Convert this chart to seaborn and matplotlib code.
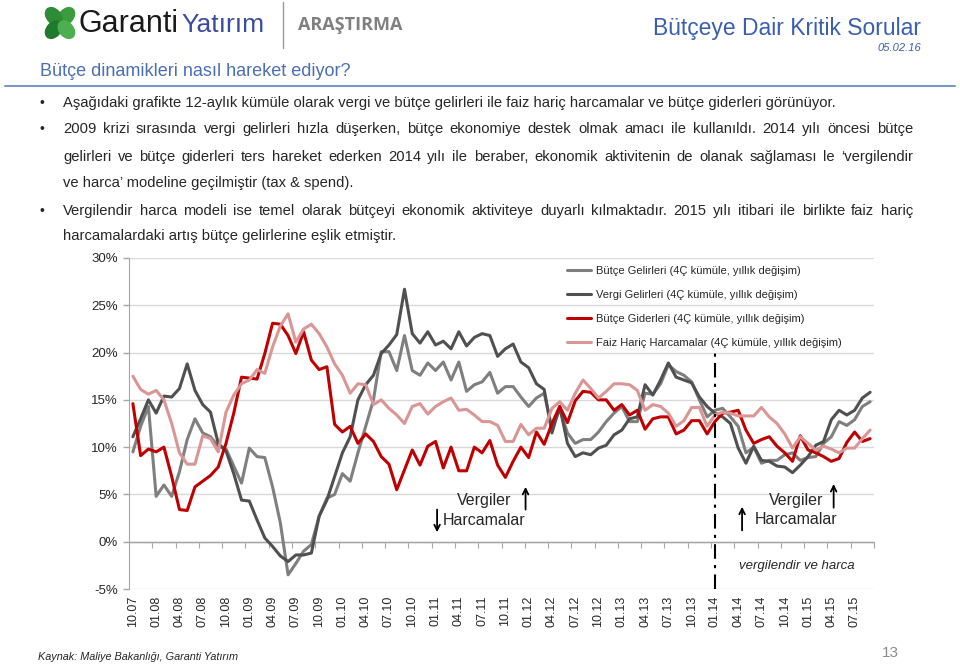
import numpy as np
import pandas as pd
import matplotlib
matplotlib.use('Agg')
import matplotlib.pyplot as plt
from matplotlib.patches import Ellipse
import seaborn as sns

# 12-month cumulative yoy change (%), monthly from 10.07 to 09.15
butce_gelir = [9.5, 12.2, 14.3, 4.8, 6.0, 4.8, 7.4, 10.8, 13.0, 11.5, 11.1, 10.1,
               9.8, 8.0, 6.2, 9.9, 9.0, 8.9, 5.8, 2.0, -3.5, -2.3, -1.0, -0.3,
               2.7, 4.6, 5.0, 7.2, 6.4, 9.4, 12.2, 15.0, 20.1, 20.1, 18.1, 21.8,
               18.1, 17.6, 18.9, 18.1, 19.0, 17.1, 19.0, 15.9, 16.6, 16.9, 17.9, 15.7,
               16.4, 16.4, 15.3, 14.3, 15.2, 15.7, 12.0, 14.0, 11.5, 10.4, 10.8, 10.8,
               11.6, 12.7, 13.6, 14.3, 12.7, 12.7, 15.7, 15.6, 16.7, 18.7, 18.0, 17.6,
               16.9, 15.0, 13.2, 13.9, 14.1, 13.2, 12.2, 9.4, 10.0, 8.3, 8.6, 8.6,
               9.2, 9.4, 8.6, 8.9, 9.0, 10.4, 11.1, 12.7, 12.3, 12.9, 14.3, 14.8]
vergi_gelir = [11.1, 13.0, 15.0, 13.6, 15.4, 15.3, 16.2, 18.8, 16.0, 14.5, 13.7, 10.4,
               9.6, 7.2, 4.4, 4.3, 2.3, 0.4, -0.5, -1.5, -2.1, -1.4, -1.4, -1.2,
               2.7, 4.4, 6.9, 9.4, 11.1, 15.0, 16.6, 17.6, 19.9, 20.8, 21.9, 26.7,
               22.0, 21.0, 22.2, 20.8, 21.2, 20.4, 22.2, 20.7, 21.6, 22.0, 21.8, 19.6,
               20.4, 20.9, 19.0, 18.4, 16.7, 16.1, 11.5, 14.3, 10.4, 9.0, 9.4, 9.2,
               9.9, 10.2, 11.3, 11.8, 13.0, 13.2, 16.6, 15.5, 17.1, 18.9, 17.4, 17.1,
               16.8, 15.3, 14.3, 13.6, 13.2, 12.5, 9.9, 8.3, 10.1, 8.6, 8.5, 8.0,
               7.9, 7.3, 8.1, 9.0, 10.2, 10.6, 12.9, 13.9, 13.4, 13.9, 15.2, 15.8]
butce_gider = [14.6, 9.1, 9.8, 9.5, 10.0, 6.9, 3.4, 3.3, 5.8, 6.4, 7.0, 7.9,
               10.4, 13.6, 17.4, 17.3, 17.2, 19.9, 23.1, 23.0, 21.8, 19.9, 22.2, 19.2,
               18.2, 18.5, 12.4, 11.6, 12.2, 10.4, 11.4, 10.6, 9.0, 8.2, 5.5, 7.6,
               9.7, 8.1, 10.1, 10.6, 7.8, 10.0, 7.5, 7.5, 10.0, 9.4, 10.7, 8.1,
               6.8, 8.5, 10.0, 8.9, 11.6, 10.3, 12.5, 14.3, 12.6, 14.9, 15.9, 15.8,
               15.0, 15.0, 13.9, 14.5, 13.4, 13.9, 11.9, 13.0, 13.2, 13.2, 11.4, 11.8,
               12.8, 12.8, 11.4, 12.7, 13.6, 13.7, 13.9, 11.8, 10.4, 10.8, 11.1, 10.1,
               9.4, 8.5, 11.2, 9.7, 9.4, 9.0, 8.5, 8.8, 10.5, 11.6, 10.6, 10.9]
faiz_haric = [17.5, 16.1, 15.6, 16.0, 15.0, 12.5, 9.4, 8.2, 8.2, 11.2, 10.9, 9.5,
              13.7, 15.5, 16.7, 17.1, 18.2, 17.8, 20.6, 22.8, 24.1, 21.1, 22.5, 23.0,
              22.0, 20.6, 18.8, 17.6, 15.7, 16.7, 16.6, 14.5, 15.0, 14.1, 13.4, 12.5,
              14.3, 14.6, 13.5, 14.3, 14.8, 15.2, 13.9, 14.0, 13.4, 12.7, 12.7, 12.3,
              10.6, 10.6, 12.4, 11.3, 12.0, 12.0, 14.1, 14.8, 13.9, 15.7, 17.1, 16.2,
              15.2, 15.9, 16.7, 16.7, 16.6, 16.0, 13.9, 14.5, 14.3, 13.6, 12.2, 12.8,
              14.2, 14.2, 12.2, 13.4, 13.7, 13.6, 13.3, 13.3, 13.3, 14.2, 13.2, 12.5,
              11.4, 9.9, 11.1, 10.4, 9.7, 10.1, 9.8, 9.4, 9.9, 9.9, 10.9, 11.8]

tick_labels = ['10.07', '01.08', '04.08', '07.08', '10.08', '01.09', '04.09', '07.09',
               '10.09', '01.10', '04.10', '07.10', '10.10', '01.11', '04.11', '07.11',
               '10.11', '01.12', '04.12', '07.12', '10.12', '01.13', '04.13', '07.13',
               '10.13', '01.14', '04.14', '07.14', '10.14', '01.15', '04.15', '07.15']

series_names = ['Bütçe Gelirleri (4Ç kümüle, yıllık değişim)',
                'Vergi Gelirleri (4Ç kümüle, yıllık değişim)',
                'Bütçe Giderleri (4Ç kümüle, yıllık değişim)',
                'Faiz Hariç Harcamalar (4Ç kümüle, yıllık değişim)']
colors = ['#7F7F7F', '#505050', '#C00000', '#D99694']

df = pd.DataFrame({'ay': np.arange(len(butce_gelir)),
                   series_names[0]: butce_gelir,
                   series_names[1]: vergi_gelir,
                   series_names[2]: butce_gider,
                   series_names[3]: faiz_haric})
long_df = df.melt(id_vars='ay', var_name='seri', value_name='deger')

sns.set_style('white')
plt.rcParams['font.family'] = ['Liberation Sans', 'DejaVu Sans']

W, H = 960, 665
fig = plt.figure(figsize=(W / 100, H / 100), dpi=100)
renderer = fig.canvas.get_renderer()


def fx(x):
    return x / W


def fy(y):
    return 1 - y / H


# ---- header ----
logo = fig.add_axes([fx(42), fy(42), fx(36), 38 / H])
logo.set_xlim(-1, 1)
logo.set_ylim(-1, 1)
logo.axis('off')
for ang, col in zip([45, 135, 225, 315], ['#3B9B3F', '#2E8B36', '#1F7A2E', '#4CAF50']):
    r = np.deg2rad(ang)
    logo.add_patch(Ellipse((0.5 * np.cos(r), 0.5 * np.sin(r)), 1.05, 0.75, angle=ang, color=col))

fig.text(fx(78), fy(32), 'Garanti', fontsize=22, color='#1A1A1A', va='baseline', ha='left')
fig.text(fx(181), fy(32), 'Yatırım', fontsize=19, color='#3B4CA0', va='baseline', ha='left')
fig.add_artist(plt.Line2D([fx(283), fx(283)], [fy(2), fy(48)], color='#9A9A9A', lw=1))
fig.text(fx(298), fy(25), 'ARAŞTIRMA', fontsize=13, fontweight='bold', color='#808080',
         va='center', ha='left', family=['Open Sans', 'DejaVu Sans'])
fig.text(fx(921), fy(28), 'Bütçeye Dair Kritik Sorular', fontsize=16.5, color='#3A5FB0',
         va='center', ha='right')
fig.text(fx(921), fy(48), '05.02.16', fontsize=8, style='italic', color='#3A5FB0',
         va='center', ha='right')
fig.text(fx(40), fy(71), 'Bütçe dinamikleri nasıl hareket ediyor?', fontsize=13,
         color='#4A6FB5', va='center', ha='left')
fig.add_artist(plt.Line2D([fx(5), fx(955)], [fy(86), fy(86)], color='#7A96CC', lw=1.5))

# ---- bullet text (justified lines spread between 63 and 913 px) ----
body_fs = 10.6
body = [
    (103, True, False, 'Aşağıdaki grafikte 12-aylık kümüle olarak vergi ve bütçe gelirleri ile faiz hariç harcamalar ve bütçe giderleri görünüyor.'),
    (129, True, True, '2009 krizi sırasında vergi gelirleri hızla düşerken, bütçe ekonomiye destek olmak amacı ile kullanıldı. 2014 yılı öncesi bütçe'),
    (157, False, True, 'gelirleri ve bütçe giderleri ters hareket ederken 2014 yılı ile beraber, ekonomik aktivitenin de olanak sağlaması le ‘vergilendir'),
    (183, False, False, 've harca’ modeline geçilmiştir (tax & spend).'),
    (211, True, True, 'Vergilendir harca modeli ise temel olarak bütçeyi ekonomik aktiviteye duyarlı kılmaktadır. 2015 yılı itibari ile birlikte faiz hariç'),
    (236, False, False, 'harcamalardaki artış bütçe gelirlerine eşlik etmiştir.'),
]
for y, bullet, justify, line in body:
    if bullet:
        fig.text(fx(40), fy(y), '•', fontsize=10, va='center', ha='left')
    if not justify:
        fig.text(fx(63), fy(y), line, fontsize=body_fs, va='center', ha='left')
        continue
    words = line.split(' ')
    widths = []
    for w in words:
        t = fig.text(0, 0, w, fontsize=body_fs)
        widths.append(t.get_window_extent(renderer).width)
        t.remove()
    gap = (913 - 63 - sum(widths)) / (len(words) - 1)
    x = 63
    for w, wd in zip(words, widths):
        fig.text(fx(x), fy(y), w, fontsize=body_fs, va='center', ha='left')
        x += wd + gap

# ---- chart ----
ax = fig.add_axes([fx(129), fy(589), (874 - 129) / W, (589 - 258) / H])
sns.lineplot(data=long_df, x='ay', y='deger', hue='seri', palette=dict(zip(series_names, colors)),
             linewidth=2.2, errorbar=None, ax=ax)

ax.set_xlim(-0.5, len(butce_gelir) - 0.5)
ax.set_ylim(-5, 30)
ax.set_xlabel('')
ax.set_ylabel('')
ax.set_yticks(range(-5, 31, 5))
ax.set_yticklabels([f'{v}%' for v in range(-5, 31, 5)])
ax.set_xticks(np.arange(len(tick_labels)) * 3)
ax.set_xticklabels(tick_labels, rotation=90)
ax.tick_params(axis='x', length=0, pad=5, labelsize=9)
ax.tick_params(axis='y', length=4, width=1, color='#A6A6A6', left=True, pad=4, labelsize=9.5)
ax.grid(axis='y', color='#D9D9D9', lw=1)
ax.grid(axis='x', visible=False)
for s in ['top', 'right', 'bottom']:
    ax.spines[s].set_visible(False)
ax.spines['left'].set_color('#A6A6A6')
ax.axhline(0, color='#A6A6A6', lw=1, zorder=1)

zero_axis = ax.secondary_xaxis(5 / 35)
zero_axis.set_xticks(np.arange(2.5, len(butce_gelir), 3))
zero_axis.tick_params(axis='x', length=4, color='#A6A6A6', labelbottom=False)
zero_axis.spines['bottom'].set_color('#A6A6A6')

ax.vlines(tick_labels.index('01.14') * 3, -5, 20, colors='black', lw=1.5,
          linestyles=(0, (7, 3, 1.5, 3)), zorder=5)

handles, labels = ax.get_legend_handles_labels()
ax.legend(handles, labels, loc='upper left', bbox_to_anchor=(fx(567), fy(266)),
          bbox_transform=fig.transFigure, frameon=False, fontsize=8, handlelength=2.2,
          handletextpad=0.45, labelspacing=1.27, borderaxespad=0, borderpad=0)

# ---- annotations ----
arrow = dict(arrowstyle='->', lw=1.3, color='black', shrinkA=0, shrinkB=0, mutation_scale=10)
ax.text(45.2, 4.4, 'Vergiler', fontsize=11.5, ha='center', va='center')
ax.text(45.2, 2.25, 'Harcamalar', fontsize=11.5, ha='center', va='center')
ax.annotate('', xy=(39.2, 1.0), xytext=(39.2, 3.4), arrowprops=arrow)
ax.annotate('', xy=(50.6, 5.8), xytext=(50.6, 3.4), arrowprops=arrow)
ax.text(85.4, 4.4, 'Vergiler', fontsize=11.5, ha='center', va='center')
ax.text(85.4, 2.35, 'Harcamalar', fontsize=11.5, ha='center', va='center')
ax.annotate('', xy=(90.3, 6.1), xytext=(90.3, 3.6), arrowprops=arrow)
ax.annotate('', xy=(78.5, 3.7), xytext=(78.5, 1.2), arrowprops=arrow)
ax.text(85.5, -2.55, 'vergilendir ve harca', fontsize=9.5, style='italic', ha='center', va='center')

# ---- footer ----
fig.text(fx(38), fy(657), 'Kaynak: Maliye Bakanlığı, Garanti Yatırım', fontsize=7.8,
         style='italic', va='center', ha='left')
fig.text(fx(890), fy(653), '13', fontsize=11, color='#8C8C8C', va='center', ha='center')

fig.savefig('out.png', dpi=100)
